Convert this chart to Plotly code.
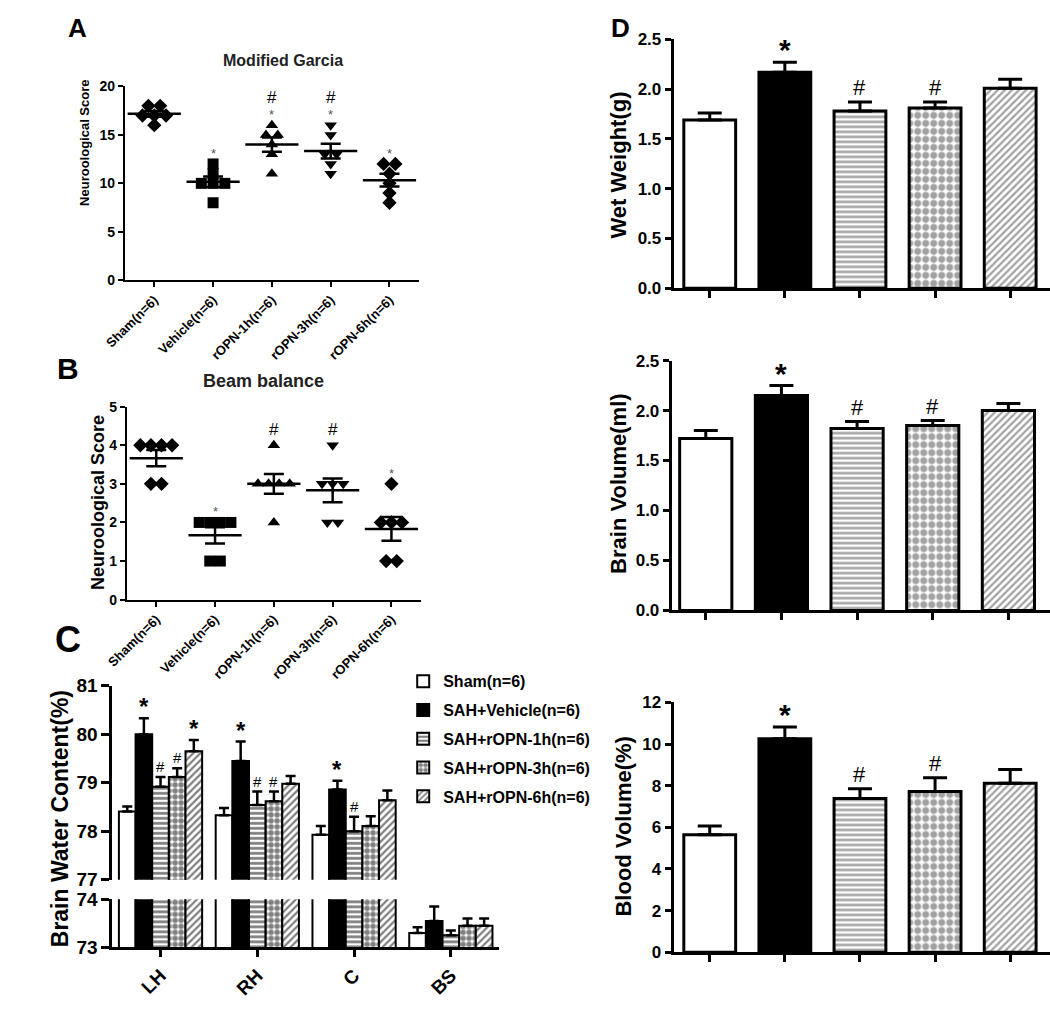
import numpy as np
import plotly.graph_objects as go

# ------------------------------------------------------------------ data
groups_ab = ["Sham(n=6)", "Vehicle(n=6)", "rOPN-1h(n=6)", "rOPN-3h(n=6)", "rOPN-6h(n=6)"]

garcia_sham = [18, 18, 17, 17, 17, 16]
garcia_vehicle = [12, 11, 10, 10, 10, 8]
garcia_1h = [16, 15, 15, 14, 13, 11]
garcia_3h = [16, 15, 13, 13, 12, 11]
garcia_6h = [12, 12, 11, 10, 9, 8]
garcia_star = ["", "*", "*", "*", "*"]
garcia_hash = ["", "", "#", "#", ""]

beam_sham = [4, 4, 4, 4, 3, 3]
beam_vehicle = [2, 2, 2, 2, 1, 1]
beam_1h = [4, 3, 3, 3, 3, 2]
beam_3h = [4, 3, 3, 3, 2, 2]
beam_6h = [3, 2, 2, 2, 1, 1]
beam_star = ["", "*", "", "", "*"]
beam_hash = ["", "", "#", "#", ""]

regions = ["LH", "RH", "C", "BS"]
series_names = ["Sham(n=6)", "SAH+Vehicle(n=6)", "SAH+rOPN-1h(n=6)",
                "SAH+rOPN-3h(n=6)", "SAH+rOPN-6h(n=6)"]
bwc_sham = [78.41, 78.33, 77.93, 73.30]
bwc_sham_err = [0.10, 0.15, 0.18, 0.12]
bwc_vehicle = [80.00, 79.45, 78.86, 73.55]
bwc_vehicle_err = [0.33, 0.40, 0.18, 0.30]
bwc_1h = [78.92, 78.54, 78.00, 73.25]
bwc_1h_err = [0.20, 0.28, 0.30, 0.10]
bwc_3h = [79.12, 78.62, 78.11, 73.45]
bwc_3h_err = [0.18, 0.20, 0.20, 0.15]
bwc_6h = [79.65, 78.98, 78.64, 73.45]
bwc_6h_err = [0.23, 0.16, 0.20, 0.15]
bwc_star = [["", "", "", ""], ["*", "*", "*", ""], ["", "", "", ""],
            ["", "", "", ""], ["*", "", "", ""]]
bwc_hash = [["", "", "", ""], ["", "", "", ""], ["#", "#", "#", ""],
            ["#", "#", "", ""], ["", "", "", ""]]

d_groups = ["Sham", "SAH+Vehicle", "SAH+rOPN-1h", "SAH+rOPN-3h", "SAH+rOPN-6h"]
wet_weight = [1.69, 2.17, 1.78, 1.81, 2.01]
wet_weight_err = [0.07, 0.10, 0.09, 0.06, 0.09]
brain_volume = [1.72, 2.15, 1.82, 1.85, 2.00]
brain_volume_err = [0.08, 0.10, 0.07, 0.05, 0.07]
blood_volume = [5.65, 10.26, 7.39, 7.72, 8.12]
blood_volume_err = [0.42, 0.56, 0.47, 0.66, 0.66]
d_star = ["", "*", "", "", ""]
d_hash = ["", "", "#", "#", ""]

# ------------------------------------------------------------------ helpers
W, H = 1050, 1022
FONT = "Arial, 'Liberation Sans', Helvetica, sans-serif"


def px(x):
    return x / W


def py(y):
    return 1 - y / H


def swarm(vals, step):
    vals = np.asarray(vals, float)
    off = np.zeros(len(vals))
    for v in np.unique(vals):
        idx = np.where(vals == v)[0]
        k = len(idx)
        off[idx] = (np.arange(k) - (k - 1) / 2) * step
    return off


def font(size, bold=True, color="black"):
    return dict(family=FONT, size=size, color=color, weight="bold" if bold else "normal")


fig = go.Figure()
annotations = []

symbols = ["diamond", "square", "triangle-up", "triangle-down", "diamond"]

# ------------------------------------------------------------------ panels A & B (scatter)
def dot_panel(data, xa, ya, step, msize, mean_w, cap, stars, hashes, star_font, hash_font,
              hash_shift):
    for g, vals in enumerate(data):
        vals = np.asarray(vals, float)
        fig.add_trace(go.Scatter(
            x=g + swarm(vals, step), y=vals, mode="markers",
            marker=dict(symbol=symbols[g], size=msize, color="black"),
            xaxis=xa, yaxis=ya, showlegend=False, cliponaxis=False, hoverinfo="y"))
        m = vals.mean()
        sem = vals.std(ddof=1) / np.sqrt(len(vals))
        fig.add_trace(go.Scatter(
            x=[g], y=[m], mode="markers",
            marker=dict(symbol="line-ew", size=mean_w, color="black",
                        line=dict(width=2.5, color="black")),
            error_y=dict(type="data", array=[sem], width=cap, thickness=2.5, color="black"),
            xaxis=xa, yaxis=ya, showlegend=False, cliponaxis=False))
        top = vals.max()
        if stars[g]:
            annotations.append(dict(x=g, y=top, xref=xa, yref=ya, text=stars[g],
                                    showarrow=False, yanchor="bottom", yshift=1,
                                    font=star_font))
        if hashes[g]:
            annotations.append(dict(x=g, y=top, xref=xa, yref=ya, text=hashes[g],
                                    showarrow=False, yanchor="bottom",
                                    yshift=hash_shift if stars[g] else 4,
                                    font=hash_font))


dot_panel([garcia_sham, garcia_vehicle, garcia_1h, garcia_3h, garcia_6h], "x", "y",
          0.2, 11, 38, 10, garcia_star, garcia_hash,
          font(13, False, "#555"), font(17, False), 16)
dot_panel([beam_sham, beam_vehicle, beam_1h, beam_3h, beam_6h], "x2", "y2",
          0.18, 11, 38, 10, beam_star, beam_hash,
          font(13, False, "#555"), font(17, False), 16)

# ------------------------------------------------------------------ bar styles
bar_fill = ["white", "black", "white", "white", "white"]
bar_shape = ["", "", "-", ".", "/"]

# ------------------------------------------------------------------ panel C (broken axis grouped bars)
bwc = [bwc_sham, bwc_vehicle, bwc_1h, bwc_3h, bwc_6h]
bwc_err = [bwc_sham_err, bwc_vehicle_err, bwc_1h_err, bwc_3h_err, bwc_6h_err]
c_size = [6, 6, 5, 6, 5]
c_solid = [0.3, 0.3, 0.55, 0.65, 0.45]
BARGAP = 0.14
for xa, ya, show in (("x3", "y3", True), ("x4", "y4", False)):
    for i in range(5):
        fig.add_trace(go.Bar(
            x=list(range(len(regions))), y=bwc[i], name=series_names[i],
            marker=dict(color=bar_fill[i], line=dict(color="black", width=2),
                        pattern=dict(shape=bar_shape[i], fgcolor="black", bgcolor=bar_fill[i],
                                     size=c_size[i], solidity=c_solid[i])),
            error_y=dict(type="data", array=bwc_err[i], arrayminus=[0] * len(regions),
                         symmetric=False, width=5, thickness=2.5, color="black"),
            xaxis=xa, yaxis=ya, showlegend=show, legendgroup=series_names[i]))

bw = (1 - BARGAP) / 5
for i in range(5):
    for j in range(len(regions)):
        top = bwc[i][j] + bwc_err[i][j]
        xj = j + (i - 2) * bw
        if bwc_star[i][j]:
            annotations.append(dict(x=xj, y=top, xref="x3", yref="y3", text=bwc_star[i][j],
                                    showarrow=False, yanchor="bottom", yshift=-4,
                                    font=font(24, True)))
        if bwc_hash[i][j]:
            annotations.append(dict(x=xj, y=top, xref="x3", yref="y3", text=bwc_hash[i][j],
                                    showarrow=False, yanchor="bottom", yshift=0,
                                    font=font(15, False)))

# ------------------------------------------------------------------ panel D (three bar charts)
d_sets = [("x5", "y5", wet_weight, wet_weight_err),
          ("x6", "y6", brain_volume, brain_volume_err),
          ("x7", "y7", blood_volume, blood_volume_err)]
for xa, ya, vals, errs in d_sets:
    fig.add_trace(go.Bar(
        x=list(range(len(d_groups))), y=vals, width=0.69,
        marker=dict(color=bar_fill, line=dict(color="black", width=3),
                    pattern=dict(shape=bar_shape, fgcolor="black", bgcolor=bar_fill,
                                 size=[6, 6, 5, 8, 5], solidity=[0.3, 0.3, 0.5, 0.6, 0.45])),
        error_y=dict(type="data", array=errs, arrayminus=[0] * len(vals), symmetric=False,
                     width=12, thickness=3, color="black"),
        xaxis=xa, yaxis=ya, showlegend=False, hovertext=d_groups))
    for g in range(len(vals)):
        top = vals[g] + errs[g]
        if d_star[g]:
            annotations.append(dict(x=g, y=top, xref=xa, yref=ya, text=d_star[g],
                                    showarrow=False, yanchor="bottom", yshift=-6,
                                    font=font(30, True)))
        if d_hash[g]:
            annotations.append(dict(x=g, y=top, xref=xa, yref=ya, text=d_hash[g],
                                    showarrow=False, yanchor="bottom", yshift=0,
                                    font=font(22, False)))

# ------------------------------------------------------------------ axes
def axis(domain, rng, lw=2, tf=14, **kw):
    d = dict(domain=domain, range=rng, showline=True, linecolor="black", linewidth=lw,
             ticks="outside", ticklen=5, tickwidth=lw, tickcolor="black",
             showgrid=False, zeroline=False, tickfont=font(tf, True), fixedrange=True)
    d.update(kw)
    return d


layout_axes = dict(
    xaxis=axis([px(106), px(406)], [-0.5, 4.5], anchor="y", tickvals=list(range(5)),
               ticktext=groups_ab, tickangle=-45, tf=13),
    yaxis=axis([py(276), py(78)], [0, 20], anchor="x", tickvals=[0, 5, 10, 15, 20], tf=14),
    xaxis2=axis([px(108), px(408)], [-0.5, 4.5], anchor="y2", tickvals=list(range(5)),
                ticktext=groups_ab, tickangle=-45, tf=13),
    yaxis2=axis([py(602), py(405)], [0, 5], anchor="x2", tickvals=[0, 1, 2, 3, 4, 5], tf=14),
    xaxis3=axis([px(93), px(488)], [-0.5, 3.5], anchor="y3", visible=False),
    yaxis3=axis([py(888), py(690)], [77, 81], anchor="x3", tickvals=[77, 78, 79, 80, 81],
                lw=2.5, tf=19, ticklen=8),
    xaxis4=axis([px(93), px(488)], [-0.5, 3.5], anchor="y4", tickvals=list(range(4)),
                ticktext=regions, tickangle=-45, lw=2.5, tf=19, ticklen=7),
    yaxis4=axis([py(957), py(908)], [73, 74], anchor="x4", tickvals=[73, 74], lw=2.5, tf=19,
                ticklen=8),
    xaxis5=axis([px(666), px(1050)], [-0.48, 4.53], anchor="y5", tickvals=list(range(5)),
                showticklabels=False, lw=3, ticklen=7),
    yaxis5=axis([py(284), py(30)], [0, 2.5], anchor="x5", tickvals=[0, 0.5, 1, 1.5, 2, 2.5],
                tickformat=".1f", lw=3, tf=17, ticklen=6),
    xaxis6=axis([px(664), px(1050)], [-0.45, 4.55], anchor="y6", tickvals=list(range(5)),
                showticklabels=False, lw=3, ticklen=7),
    yaxis6=axis([py(613), py(358)], [0, 2.5], anchor="x6", tickvals=[0, 0.5, 1, 1.5, 2, 2.5],
                tickformat=".1f", lw=3, tf=17, ticklen=6),
    xaxis7=axis([px(666), px(1050)], [-0.48, 4.53], anchor="y7", tickvals=list(range(5)),
                showticklabels=False, lw=3, ticklen=7),
    yaxis7=axis([py(962), py(707)], [0, 12], anchor="x7", tickvals=[0, 2, 4, 6, 8, 10, 12],
                lw=3, tf=17, ticklen=6),
)

# ------------------------------------------------------------------ text: titles, letters, axis titles
def paper_text(x, y, text, size, bold=True, angle=0, color="black"):
    annotations.append(dict(x=px(x), y=py(y), xref="paper", yref="paper", text=text,
                            showarrow=False, textangle=angle, xanchor="center",
                            yanchor="middle", font=font(size, bold, color)))


paper_text(58, 18, "A", 26)
paper_text(48, 366, "B", 30)
paper_text(48, 643, "C", 36)
paper_text(612, 18, "D", 26)
paper_text(267, 52, "Modified Garcia", 16, True, 0, "#222")
paper_text(247, 379, "Beam balance", 18, True, 0, "#222")
paper_text(64, 136, "Neuroological Score", 13, True, -90)
paper_text(78, 503, "Neuroological Score", 18, True, -90)
paper_text(40, 826, "Brain Water Content(%)", 23, True, -90)
paper_text(610, 158, "Wet Weight(g)", 22, True, -90)
paper_text(609, 483, "Brain Volume(ml)", 22, True, -90)
paper_text(615, 834, "Blood Volume(%)", 22, True, -90)

fig.update_layout(
    width=W, height=H, margin=dict(l=0, r=0, t=0, b=0),
    paper_bgcolor="white", plot_bgcolor="white",
    barmode="group", bargap=BARGAP, bargroupgap=0,
    font=dict(family=FONT, color="black"),
    showlegend=True,
    legend=dict(x=px(390), y=py(668), xanchor="left", yanchor="top",
                font=font(16, True), bgcolor="rgba(0,0,0,0)", tracegroupgap=5,
                itemwidth=30),
    annotations=annotations,
    **layout_axes,
)

fig.write_html("out.html", config={"displayModeBar": False},
               post_script="document.body.style.margin='0';document.body.style.overflow='hidden';")
